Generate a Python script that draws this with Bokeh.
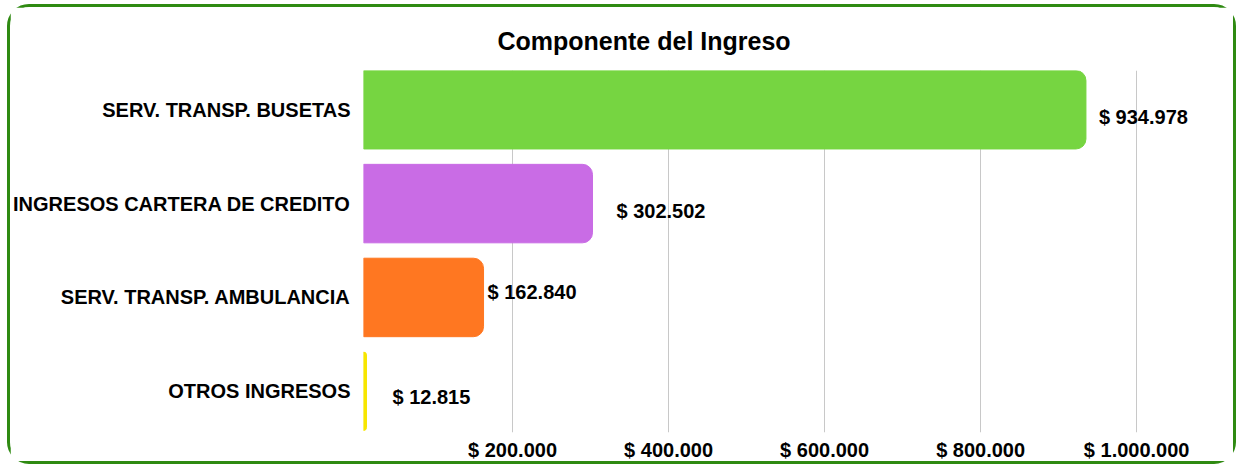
from bokeh.plotting import figure
from bokeh.models import ColumnDataSource, FixedTicker, Range1d, LabelSet
from bokeh.core.properties import value
from bokeh.embed import file_html
from bokeh.resources import INLINE

categories = ["SERV. TRANSP. BUSETAS", "INGRESOS CARTERA DE CREDITO",
              "SERV. TRANSP. AMBULANCIA", "OTROS INGRESOS"]
values = [934978, 302502, 162840, 12815]
value_labels = ["$ 934.978", "$ 302.502", "$ 162.840", "$ 12.815"]
colors = ["#76d541", "#c96ce5", "#ff7721", "#f7e600"]
label_dx = [13, 24, 4, 26]
label_dy = [-7, -7, 5, -6]
tick_values = [200000, 400000, 600000, 800000, 1000000]
tick_labels = ["$ 200.000", "$ 400.000", "$ 600.000", "$ 800.000", "$ 1.000.000"]

FONT = "Liberation Sans"
positions = list(range(len(categories)))

src = ColumnDataSource(dict(pos=positions, val=values, lab=value_labels,
                            col=colors, dx=label_dx, dy=label_dy))

p = figure(width=1229, height=460, output_backend="svg", toolbar_location=None,
           y_range=Range1d(3.439, -0.418),
           x_range=Range1d(8974, 1069000),
           title="Componente del Ingreso",
           min_border_left=345, min_border_right=49, min_border_top=63,
           min_border_bottom=35)
p.styles = {"border": "3px solid #2f8a12", "border-radius": "22px",
            "margin-left": "7px", "margin-top": "4px"}

p.title.text_font = FONT
p.title.text_font_size = "25px"
p.title.text_font_style = "bold"
p.title.text_color = "#000000"
p.title.align = "left"
p.title.offset = 134
p.title.standoff = 32

p.hbar(y="pos", right="val", left=0, height=0.836, color="col", source=src,
       border_radius=[0, 10, 10, 0])

labels = LabelSet(x="val", y="pos", text="lab", source=src, x_offset="dx", y_offset="dy",
                  text_font=value(FONT), text_font_size=value("20px"),
                  text_font_style="bold", text_color="#000000", text_baseline="middle")
p.add_layout(labels)

p.xaxis.ticker = FixedTicker(ticks=tick_values)
p.xaxis.major_label_overrides = dict(zip(tick_values, tick_labels))
p.xaxis.axis_line_color = None
p.xaxis.major_tick_line_color = None
p.xaxis.minor_tick_line_color = None
p.xaxis.major_tick_out = 0
p.xaxis.major_tick_in = 0
p.xaxis.major_label_text_font = FONT
p.xaxis.major_label_text_font_size = "20px"
p.xaxis.major_label_text_font_style = "bold"
p.xaxis.major_label_text_color = "#000000"
p.xaxis.major_label_standoff = 6

p.yaxis.ticker = FixedTicker(ticks=positions)
p.yaxis.major_label_overrides = dict(zip(positions, categories))
p.yaxis.axis_line_color = None
p.yaxis.major_tick_line_color = None
p.yaxis.minor_tick_line_color = None
p.yaxis.major_tick_out = 0
p.yaxis.major_tick_in = 0
p.yaxis.major_label_text_font = FONT
p.yaxis.major_label_text_font_size = "20px"
p.yaxis.major_label_text_font_style = "bold"
p.yaxis.major_label_text_color = "#000000"
p.yaxis.major_label_standoff = 13

p.xgrid.grid_line_color = "#c8c8c8"
p.ygrid.grid_line_color = None
p.outline_line_color = None

open("out.html", "w").write(file_html(p, INLINE))
